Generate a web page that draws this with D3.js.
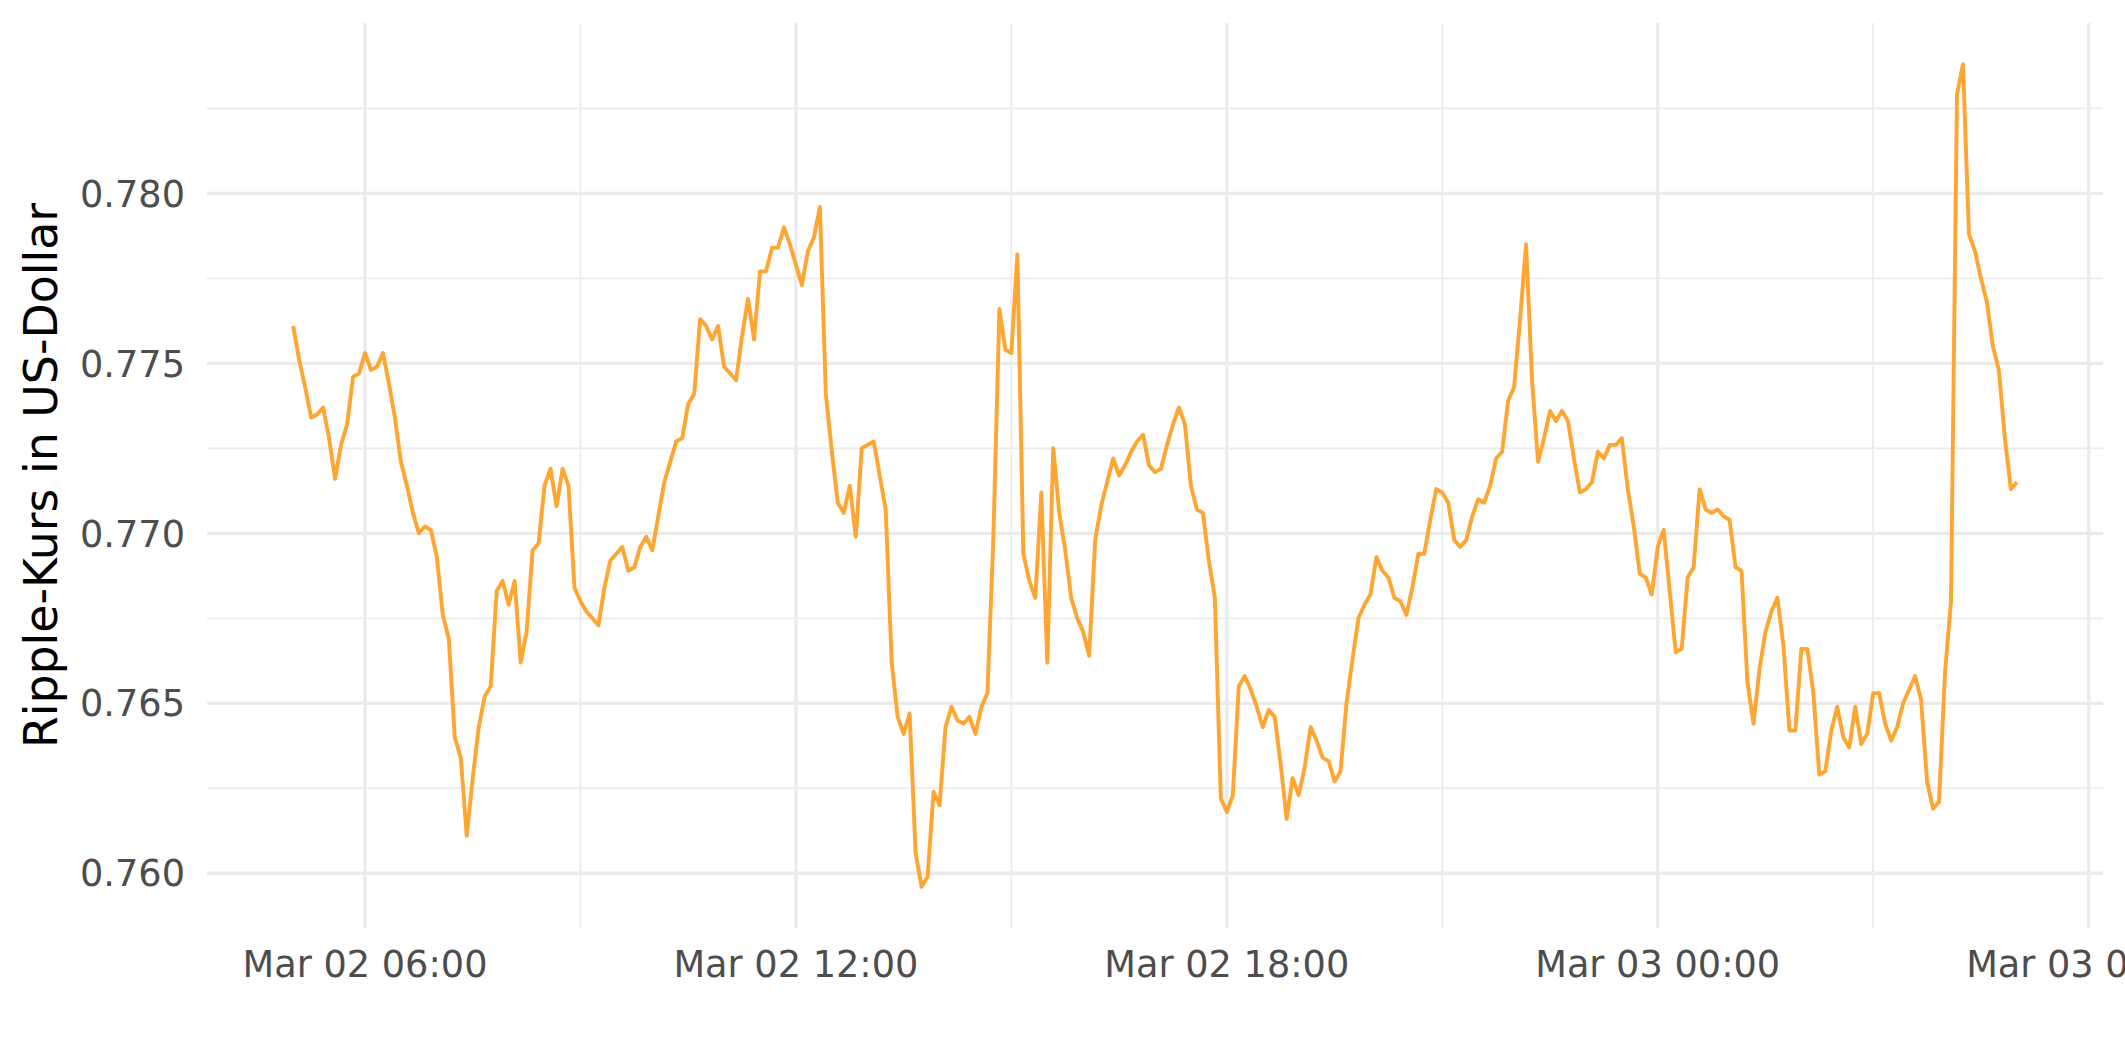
<!DOCTYPE html>
<html>
<head>
<meta charset="utf-8">
<script src="https://cdn.jsdelivr.net/npm/d3@7"></script>
<style>
  html, body { margin: 0; padding: 0; background: #ffffff; overflow: hidden; }
  svg { display: block; }
</style>
</head>
<body>
<svg id="chart" width="2125" height="1062"></svg>
<script>
// ---------------- data ----------------
const startTime = "2018-03-02T05:00:00Z";   // first observation (UTC)
const stepMinutes = 5;                       // spacing of observations

const prices = [
  0.7761, 0.7751, 0.7743, 0.7734, 0.7735, 0.7737, 0.7728, 0.7716, 0.7726, 0.7732,
  0.7746, 0.7747, 0.7753, 0.7748, 0.7749, 0.7753, 0.7744, 0.7734, 0.7721, 0.7714,
  0.7706, 0.7700, 0.7702, 0.7701, 0.7693, 0.7676, 0.7669, 0.7640, 0.7634, 0.7611,
  0.7628, 0.7643, 0.7652, 0.7655, 0.7683, 0.7686, 0.7679, 0.7686, 0.7662, 0.7671,
  0.7695, 0.7697, 0.7714, 0.7719, 0.7708, 0.7719, 0.7714, 0.7684, 0.7680, 0.7677,
  0.7675, 0.7673, 0.7684, 0.7692, 0.7694, 0.7696, 0.7689, 0.7690, 0.7696, 0.7699,
  0.7695, 0.7705, 0.7715, 0.7721, 0.7727, 0.7728, 0.7738, 0.7741, 0.7763, 0.7761,
  0.7757, 0.7761, 0.7749, 0.7747, 0.7745, 0.7758, 0.7769, 0.7757, 0.7777, 0.7777,
  0.7784, 0.7784, 0.7790, 0.7785, 0.7779, 0.7773, 0.7783, 0.7787, 0.7796, 0.7741,
  0.7724, 0.7709, 0.7706, 0.7714, 0.7699, 0.7725, 0.7726, 0.7727, 0.7717, 0.7707,
  0.7662, 0.7646, 0.7641, 0.7647, 0.7606, 0.7596, 0.7599, 0.7624, 0.7620, 0.7643,
  0.7649, 0.7645, 0.7644, 0.7646, 0.7641, 0.7649, 0.7653, 0.7699, 0.7766, 0.7754,
  0.7753, 0.7782, 0.7694, 0.7686, 0.7681, 0.7712, 0.7662, 0.7725, 0.7706, 0.7695,
  0.7681, 0.7675, 0.7671, 0.7664, 0.7698, 0.7708, 0.7715, 0.7722, 0.7717, 0.7720,
  0.7724, 0.7727, 0.7729, 0.7720, 0.7718, 0.7719, 0.7726, 0.7732, 0.7737, 0.7732,
  0.7714, 0.7707, 0.7706, 0.7692, 0.7681, 0.7622, 0.7618, 0.7623, 0.7655, 0.7658,
  0.7654, 0.7649, 0.7643, 0.7648, 0.7646, 0.7632, 0.7616, 0.7628, 0.7623, 0.7631,
  0.7643, 0.7639, 0.7634, 0.7633, 0.7627, 0.7630, 0.7650, 0.7663, 0.7675, 0.7679,
  0.7682, 0.7693, 0.7689, 0.7687, 0.7681, 0.7680, 0.7676, 0.7684, 0.7694, 0.7694,
  0.7704, 0.7713, 0.7712, 0.7709, 0.7698, 0.7696, 0.7698, 0.7705, 0.7710, 0.7709,
  0.7714, 0.7722, 0.7724, 0.7739, 0.7743, 0.7763, 0.7785, 0.7745, 0.7721, 0.7728,
  0.7736, 0.7733, 0.7736, 0.7733, 0.7722, 0.7712, 0.7713, 0.7715, 0.7724, 0.7722,
  0.7726, 0.7726, 0.7728, 0.7713, 0.7702, 0.7688, 0.7687, 0.7682, 0.7696, 0.7701,
  0.7683, 0.7665, 0.7666, 0.7687, 0.7690, 0.7713, 0.7707, 0.7706, 0.7707, 0.7705,
  0.7704, 0.7690, 0.7689, 0.7656, 0.7644, 0.7660, 0.7671, 0.7677, 0.7681, 0.7667,
  0.7642, 0.7642, 0.7666, 0.7666, 0.7653, 0.7629, 0.7630, 0.7642, 0.7649, 0.7640,
  0.7637, 0.7649, 0.7638, 0.7641, 0.7653, 0.7653, 0.7644, 0.7639, 0.7643, 0.7650,
  0.7654, 0.7658, 0.7651, 0.7627, 0.7619, 0.7621, 0.7659, 0.7680, 0.7829, 0.7838,
  0.7788, 0.7783, 0.7775, 0.7768, 0.7755, 0.7748, 0.7728, 0.7713, 0.7715
];

const yMajorTicks = [0.760, 0.765, 0.770, 0.775, 0.780];
const yTickLabels = ["0.760", "0.765", "0.770", "0.775", "0.780"];
const yMinorTicks = [0.7625, 0.7675, 0.7725, 0.7775, 0.7825];

const xMajorTicks = ["2018-03-02T06:00:00Z", "2018-03-02T12:00:00Z", "2018-03-02T18:00:00Z",
                     "2018-03-03T00:00:00Z", "2018-03-03T06:00:00Z"];
const xTickLabels = ["Mar 02 06:00", "Mar 02 12:00", "Mar 02 18:00", "Mar 03 00:00", "Mar 03 06:00"];
const xMinorTicks = ["2018-03-02T09:00:00Z", "2018-03-02T15:00:00Z", "2018-03-02T21:00:00Z",
                     "2018-03-03T03:00:00Z"];

const yTitle = "Ripple-Kurs in US-Dollar";

// ---------------- layout ----------------
const W = 2125, H = 1062;
const panel = { left: 207, right: 2103, top: 23, bottom: 928 };
const lineColor = "#FFA532";
const gridColor = "#EBEBEB";
const fontFamily = "'DejaVu Sans', 'Liberation Sans', sans-serif";

const t0 = new Date(startTime);
const series = prices.map((v, i) => ({ t: d3.utcMinute.offset(t0, i * stepMinutes), v }));

// ggplot-like 5% expansion
function expand(ext, f) { const d = ext[1] - ext[0]; return [ext[0] - d * f, ext[1] + d * f]; }
const tExt = d3.extent(series, d => d.t.getTime());
const vExt = d3.extent(series, d => d.v);
const tDom = expand(tExt, 0.05).map(ms => new Date(ms));
const vDom = expand(vExt, 0.05);

const x = d3.scaleUtc().domain(tDom).range([panel.left, panel.right]);
const y = d3.scaleLinear().domain(vDom).range([panel.bottom, panel.top]);

const svg = d3.select("#chart");
svg.append("rect").attr("width", W).attr("height", H).attr("fill", "#ffffff");

const grid = svg.append("g");
// minor grid
grid.selectAll("line.ymin").data(yMinorTicks.filter(v => v >= vDom[0] && v <= vDom[1]))
  .join("line").attr("x1", panel.left).attr("x2", panel.right)
  .attr("y1", d => y(d)).attr("y2", d => y(d))
  .attr("stroke", gridColor).attr("stroke-width", 1.7);
grid.selectAll("line.xmin").data(xMinorTicks.map(s => new Date(s)))
  .join("line").attr("y1", panel.top).attr("y2", panel.bottom)
  .attr("x1", d => x(d)).attr("x2", d => x(d))
  .attr("stroke", gridColor).attr("stroke-width", 1.7);
// major grid
grid.selectAll("line.ymaj").data(yMajorTicks)
  .join("line").attr("class", "ymaj").attr("x1", panel.left).attr("x2", panel.right)
  .attr("y1", d => y(d)).attr("y2", d => y(d))
  .attr("stroke", gridColor).attr("stroke-width", 3.3);
grid.selectAll("line.xmaj").data(xMajorTicks.map(s => new Date(s)))
  .join("line").attr("class", "xmaj").attr("y1", panel.top).attr("y2", panel.bottom)
  .attr("x1", d => x(d)).attr("x2", d => x(d))
  .attr("stroke", gridColor).attr("stroke-width", 3.3);

// line
const line = d3.line().x(d => x(d.t)).y(d => y(d.v));
svg.append("path").datum(series)
  .attr("d", line)
  .attr("fill", "none")
  .attr("stroke", lineColor)
  .attr("stroke-width", 3.9)
  .attr("stroke-linejoin", "round")
  .attr("stroke-linecap", "butt");

// y axis labels
svg.append("g").selectAll("text").data(yMajorTicks)
  .join("text")
  .attr("x", 185).attr("y", d => y(d)).attr("dy", "0.36em")
  .attr("text-anchor", "end")
  .attr("font-family", fontFamily).attr("font-size", 36.7)
  .attr("fill", "#4D4D4D")
  .text((d, i) => yTickLabels[i]);

// x axis labels
svg.append("g").selectAll("text").data(xMajorTicks.map(s => new Date(s)))
  .join("text")
  .attr("x", d => x(d)).attr("y", 977)
  .attr("text-anchor", "middle")
  .attr("font-family", fontFamily).attr("font-size", 36.7)
  .attr("fill", "#4D4D4D")
  .text((d, i) => xTickLabels[i]);

// y title
svg.append("text")
  .attr("transform", `translate(57, ${(panel.top + panel.bottom) / 2}) rotate(-90)`)
  .attr("text-anchor", "middle")
  .attr("font-family", fontFamily).attr("font-size", 45.8)
  .attr("fill", "#000000")
  .text(yTitle);
</script>
</body>
</html>
